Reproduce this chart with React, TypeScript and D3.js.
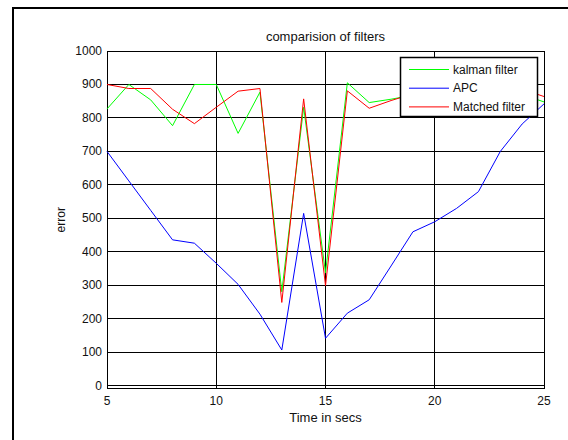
import React from "react";
import * as d3 from "d3";

const times = [5, 6, 7, 8, 9, 10, 11, 12, 13, 14, 15, 16, 17, 18, 19, 20, 21, 22, 23, 24, 25];
const kalman = [827, 900, 854, 777, 900, 900, 754, 877, 281, 832, 337, 905, 846, 856, 868, 878, 862, 874, 884, 870, 848];
const apc = [700, 612, 524, 436, 426, 366, 303, 214, 107, 515, 142, 217, 257, 358, 460, 490, 530, 580, 700, 782, 842];
const matched = [900, 888, 888, 826, 783, 832, 880, 888, 249, 857, 299, 881, 829, 852, 872, 880, 888, 872, 880, 886, 864];
const xTicks = [5, 10, 15, 20, 25];
const yTicks = [0, 100, 200, 300, 400, 500, 600, 700, 800, 900, 1000];
const seriesNames = ["kalman filter", "APC", "Matched filter"];
const seriesColors = ["#00ff00", "#0000ff", "#ff0000"];

const W = 568;
const H = 440;
const L = 107;
const R = 544;
const T = 51;
const B = 388.5;

export default function App() {
  const x = d3.scaleLinear().domain([5, 25]).range([L, R]);
  const y = d3.scaleLinear().domain([-8, 1000]).range([B, T]);
  const series = [kalman, apc, matched];
  const line = d3
    .line<[number, number]>()
    .x((d) => x(d[0]))
    .y((d) => y(d[1]));
  const font = "'Liberation Sans', Arial, Helvetica, sans-serif";

  const legX = 400.5;
  const legY = 57.5;
  const legW = 137;
  const legH = 59;

  return (
    <svg
      width={W}
      height={H}
      style={{ position: "absolute", left: 0, top: 0, background: "#fff" }}
      fontFamily={font}
    >
      <rect x={0} y={0} width={W} height={H} fill="#fff" />
      <rect x={13} y={8} width={620} height={520} fill="none" stroke="#000" strokeWidth={2} />

      {/* grid */}
      <g shapeRendering="crispEdges" stroke="#000" strokeWidth={1}>
        {xTicks.map((t) => (
          <line key={"gx" + t} x1={x(t)} x2={x(t)} y1={T} y2={B} />
        ))}
        {yTicks.map((t) => (
          <line key={"gy" + t} x1={L} x2={R} y1={y(t)} y2={y(t)} />
        ))}
        <rect x={L} y={T} width={R - L} height={B - T} fill="none" />
      </g>

      {/* tick labels */}
      <g fontSize={12} fill="#111">
        {yTicks.map((t) => (
          <text key={"ty" + t} x={L - 5} y={y(t)} textAnchor="end" dominantBaseline="central">
            {t}
          </text>
        ))}
        {xTicks.map((t) => (
          <text key={"tx" + t} x={x(t)} y={405} textAnchor="middle">
            {t}
          </text>
        ))}
      </g>

      {/* series */}
      {series.map((s, i) => (
        <path
          key={"s" + i}
          d={line(times.map((t, j) => [t, s[j]] as [number, number])) || ""}
          fill="none"
          stroke={seriesColors[i]}
          strokeWidth={1}
        />
      ))}

      {/* title and labels */}
      <text x={(L + R) / 2} y={41} textAnchor="middle" fontSize={13} fill="#111">
        comparision of filters
      </text>
      <text x={(L + R) / 2} y={422} textAnchor="middle" fontSize={13} fill="#111">
        Time in secs
      </text>
      <text
        transform={`translate(65, ${(T + B) / 2}) rotate(-90)`}
        textAnchor="middle"
        fontSize={12}
        fill="#111"
      >
        error
      </text>

      {/* legend */}
      <g>
        <rect x={legX} y={legY} width={legW} height={legH} fill="#fff" stroke="#000" strokeWidth={1.5} />
        {seriesNames.map((n, i) => {
          const cy = 69.5 + i * 18.7;
          return (
            <g key={"l" + i}>
              <line x1={409} x2={449} y1={cy} y2={cy} stroke={seriesColors[i]} strokeWidth={1} />
              <text x={453} y={cy} dominantBaseline="central" fontSize={12} fill="#111">
                {n}
              </text>
            </g>
          );
        })}
      </g>
    </svg>
  );
}
